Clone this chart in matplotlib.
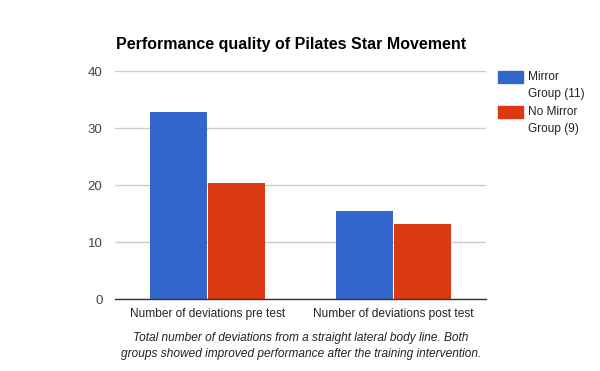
import matplotlib
matplotlib.use("Agg")
import matplotlib.pyplot as plt
from matplotlib.patches import Rectangle
import numpy as np

categories = ["Number of deviations pre test", "Number of deviations post test"]
series_names = ["Mirror\nGroup (11)", "No Mirror\nGroup (9)"]
series_colors = ["#3366cc", "#dc3912"]
mirror = [32.9, 15.5]
no_mirror = [20.4, 13.2]
yticks = [0, 10, 20, 30, 40]

plt.rcParams['font.family'] = ['Liberation Sans', 'DejaVu Sans']

fig = plt.figure(figsize=(6, 3.71), dpi=100)
W, H = 600, 371
ax = fig.add_axes([115 / W, 1 - 299.3 / H, (486 - 115) / W, (299.3 - 71.3) / H])

x = np.arange(len(categories))
bw = 0.307
gap = 0.003
ax.bar(x - bw / 2 - gap, mirror, bw, color=series_colors[0], zorder=3)
ax.bar(x + bw / 2 + gap, no_mirror, bw, color=series_colors[1], zorder=3)

ax.set_xlim(-0.5, 1.5)
ax.set_ylim(0, 40)
ax.set_yticks(yticks)
ax.set_xticks(x)
ax.set_xticklabels(categories)
ax.grid(axis="y", color="#cccccc", linewidth=1, zorder=0)
for s in ["top", "right", "left"]:
    ax.spines[s].set_visible(False)
ax.spines["bottom"].set_color("#333333")
ax.spines["bottom"].set_linewidth(1)
ax.spines["bottom"].set_zorder(4)
ax.tick_params(axis="y", length=0, labelsize=9.5, colors="#444444", pad=9)
ax.tick_params(axis="x", length=0, labelsize=8.6, colors="#222222", pad=6)

fig.text(116 / W, 1 - 44 / H, "Performance quality of Pilates Star Movement",
         fontsize=11.5, fontweight="bold", ha="left", va="center", color="#000000")

# legend drawn manually
for i, (name, col) in enumerate(zip(series_names, series_colors)):
    top = 71.5 + i * 35
    fig.add_artist(Rectangle((497.5 / W, 1 - (top + 11.5) / H), 25 / W, 11.5 / H,
                             transform=fig.transFigure, color=col))
    fig.text(528 / W, 1 - (top - 0.5) / H, name, fontsize=8.6, ha="left", va="top",
             color="#222222", linespacing=1.6)

fig.text(301 / W, 1 - 346 / H,
         "Total number of deviations from a straight lateral body line. Both\n"
         "groups showed improved performance after the training intervention.",
         fontsize=8.6, style="italic", ha="center", va="center", color="#222222",
         linespacing=1.5)

fig.savefig("out.png", dpi=100)
